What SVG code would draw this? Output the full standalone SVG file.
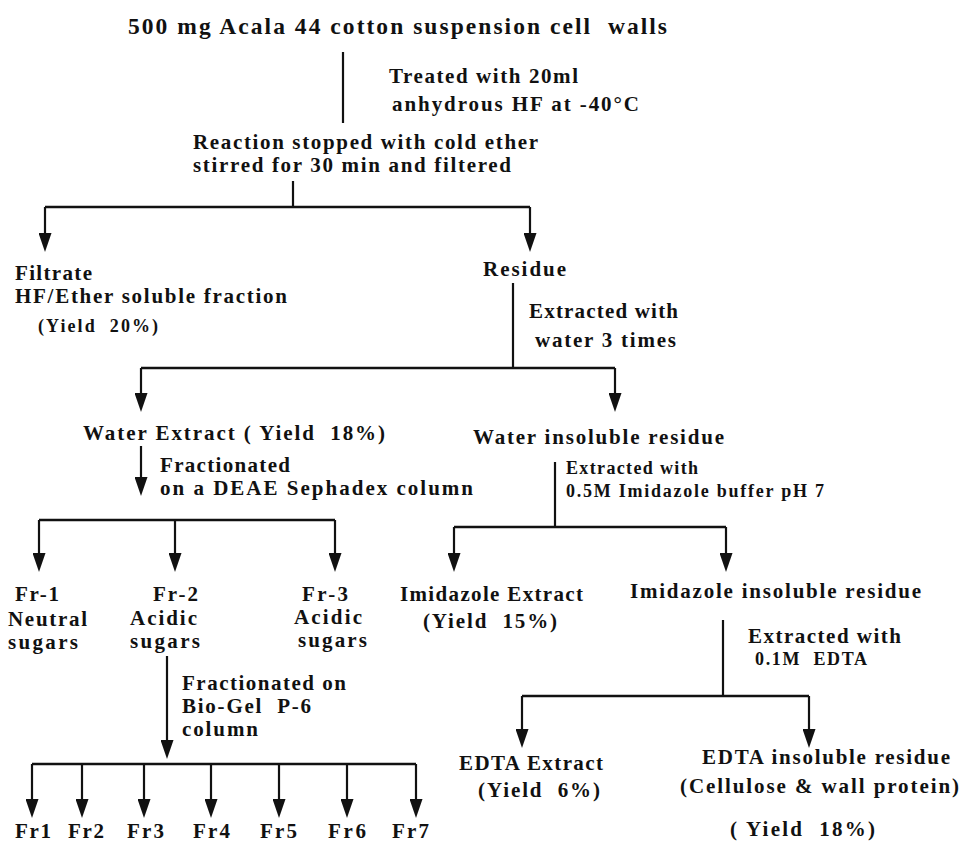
<svg xmlns="http://www.w3.org/2000/svg" width="968" height="842" viewBox="0 0 968 842">
  <style>
    text { font-family: "Liberation Serif", "Times New Roman", serif; font-weight: bold; fill: #111; white-space: pre; }
    .title { font-size: 23.5px; }
    .t { font-size: 21px; }
    .s { font-size: 18px; }
    .ln { stroke: #111; stroke-width: 2.2; fill: none; }
    .hz { stroke: #111; stroke-width: 2.6; fill: none; }
    .ar { stroke: #111; stroke-width: 2.2; fill: none; marker-end: url(#ah); }
  </style>
  <defs>
    <marker id="ah" viewBox="0 0 19 13" refX="9" refY="6.5" markerWidth="19" markerHeight="13" markerUnits="userSpaceOnUse" orient="auto">
      <path d="M0,0 L19,6.5 L0,13 z" fill="#111"/>
    </marker>
  </defs>
  <rect width="968" height="842" fill="#fff"/>

  <!-- connectors -->
  <g id="connectors">
    <!-- HF treatment -->
    <path class="ln" d="M343 52 V123"/>
    <!-- filtration split -->
    <path class="ln" d="M293 181 V207"/>
    <path class="hz" d="M45 207 H530"/>
    <path class="ar" d="M45 207 V242"/>
    <path class="ar" d="M530 207 V242"/>
    <!-- water extraction split -->
    <path class="ln" d="M513 283 V368"/>
    <path class="hz" d="M141 368 H615"/>
    <path class="ar" d="M141 368 V402"/>
    <path class="ar" d="M615 368 V402"/>
    <!-- DEAE Sephadex -->
    <path class="ar" d="M141 446 V486"/>
    <path class="hz" d="M39 520 H335"/>
    <path class="ar" d="M39 520 V562"/>
    <path class="ar" d="M175 520 V562"/>
    <path class="ar" d="M335 520 V562"/>
    <!-- imidazole split -->
    <path class="ln" d="M555 462 V527"/>
    <path class="hz" d="M454 527 H726"/>
    <path class="ar" d="M454 527 V562"/>
    <path class="ar" d="M726 527 V562"/>
    <!-- EDTA split -->
    <path class="ln" d="M723 620 V696"/>
    <path class="hz" d="M522 696 H809"/>
    <path class="ar" d="M522 696 V738"/>
    <path class="ar" d="M809 696 V738"/>
    <!-- Bio-Gel P-6 -->
    <path class="ar" d="M167 656 V749"/>
    <path class="hz" d="M32 764 H416"/>
    <path class="ar" d="M32 764 V808"/>
    <path class="ar" d="M82 764 V808"/>
    <path class="ar" d="M144 764 V808"/>
    <path class="ar" d="M211 764 V808"/>
    <path class="ar" d="M279 764 V808"/>
    <path class="ar" d="M347 764 V808"/>
    <path class="ar" d="M416 764 V808"/>
  </g>

  <g id="start">
    <text class="title" x="128" y="34" textLength="539">500 mg Acala 44 cotton suspension cell  walls</text>
  </g>
  <g id="step-hf">
    <text class="t" x="389" y="83" textLength="189">Treated with 20ml</text>
    <text class="t" x="392" y="111" textLength="247">anhydrous HF at -40°C</text>
  </g>
  <g id="reaction">
    <text class="t" x="193" y="149" textLength="345">Reaction stopped with cold ether</text>
    <text class="t" x="193" y="172" textLength="318">stirred for 30 min and filtered</text>
  </g>
  <g id="filtrate">
    <text class="t" x="15" y="280" textLength="77">Filtrate</text>
    <text class="t" x="15" y="303" textLength="272">HF/Ether soluble fraction</text>
    <text class="s" x="38" y="332" textLength="120">(Yield  20%)</text>
  </g>
  <g id="residue">
    <text class="t" x="483" y="276" textLength="83">Residue</text>
  </g>
  <g id="step-water">
    <text class="t" x="529" y="318" textLength="149">Extracted with</text>
    <text class="t" x="535" y="347" textLength="141">water 3 times</text>
  </g>
  <g id="water-extract">
    <text class="t" x="83" y="440" textLength="302">Water Extract ( Yield  18%)</text>
  </g>
  <g id="step-deae">
    <text class="t" x="160" y="472" textLength="130">Fractionated</text>
    <text class="t" x="160" y="495" textLength="313">on a DEAE Sephadex column</text>
  </g>
  <g id="water-insoluble">
    <text class="t" x="473" y="444" textLength="251">Water insoluble residue</text>
  </g>
  <g id="step-imidazole">
    <text class="s" x="566" y="474" textLength="132">Extracted with</text>
    <text class="s" x="566" y="497" textLength="258">0.5M Imidazole buffer pH 7</text>
  </g>
  <g id="fr-1">
    <text class="t" x="15" y="601" textLength="44">Fr-1</text>
    <text class="t" x="8" y="626" textLength="79">Neutral</text>
    <text class="t" x="8" y="649" textLength="70">sugars</text>
  </g>
  <g id="fr-2">
    <text class="t" x="153" y="601" textLength="45">Fr-2</text>
    <text class="t" x="130" y="625" textLength="67">Acidic</text>
    <text class="t" x="130" y="648" textLength="70">sugars</text>
  </g>
  <g id="fr-3">
    <text class="t" x="302" y="601" textLength="46">Fr-3</text>
    <text class="t" x="294" y="624" textLength="68">Acidic</text>
    <text class="t" x="298" y="647" textLength="69">sugars</text>
  </g>
  <g id="imidazole-extract">
    <text class="t" x="400" y="601" textLength="183">Imidazole Extract</text>
    <text class="t" x="423" y="628" textLength="134">(Yield  15%)</text>
  </g>
  <g id="imidazole-insoluble">
    <text class="t" x="630" y="598" textLength="291">Imidazole insoluble residue</text>
  </g>
  <g id="step-edta">
    <text class="t" x="748" y="643" textLength="153">Extracted with</text>
    <text class="s" x="755" y="665" textLength="112">0.1M  EDTA</text>
  </g>
  <g id="step-biogel">
    <text class="t" x="182" y="690" textLength="164">Fractionated on</text>
    <text class="t" x="182" y="713" textLength="129">Bio-Gel  P-6</text>
    <text class="t" x="182" y="736" textLength="76">column</text>
  </g>
  <g id="edta-extract">
    <text class="t" x="459" y="770" textLength="144">EDTA Extract</text>
    <text class="t" x="478" y="797" textLength="122">(Yield  6%)</text>
  </g>
  <g id="edta-insoluble">
    <text class="t" x="702" y="764" textLength="248">EDTA insoluble residue</text>
    <text class="t" x="680" y="793" textLength="279">(Cellulose &amp; wall protein)</text>
    <text class="t" x="730" y="836" textLength="145">( Yield  18%)</text>
  </g>
  <g id="biogel-fractions">
    <text class="t" x="15" y="838" textLength="36">Fr1</text>
    <text class="t" x="68" y="838" textLength="36">Fr2</text>
    <text class="t" x="127" y="838" textLength="37">Fr3</text>
    <text class="t" x="193" y="838" textLength="37">Fr4</text>
    <text class="t" x="260" y="838" textLength="37">Fr5</text>
    <text class="t" x="328" y="838" textLength="38">Fr6</text>
    <text class="t" x="392" y="838" textLength="37">Fr7</text>
  </g>
</svg>
